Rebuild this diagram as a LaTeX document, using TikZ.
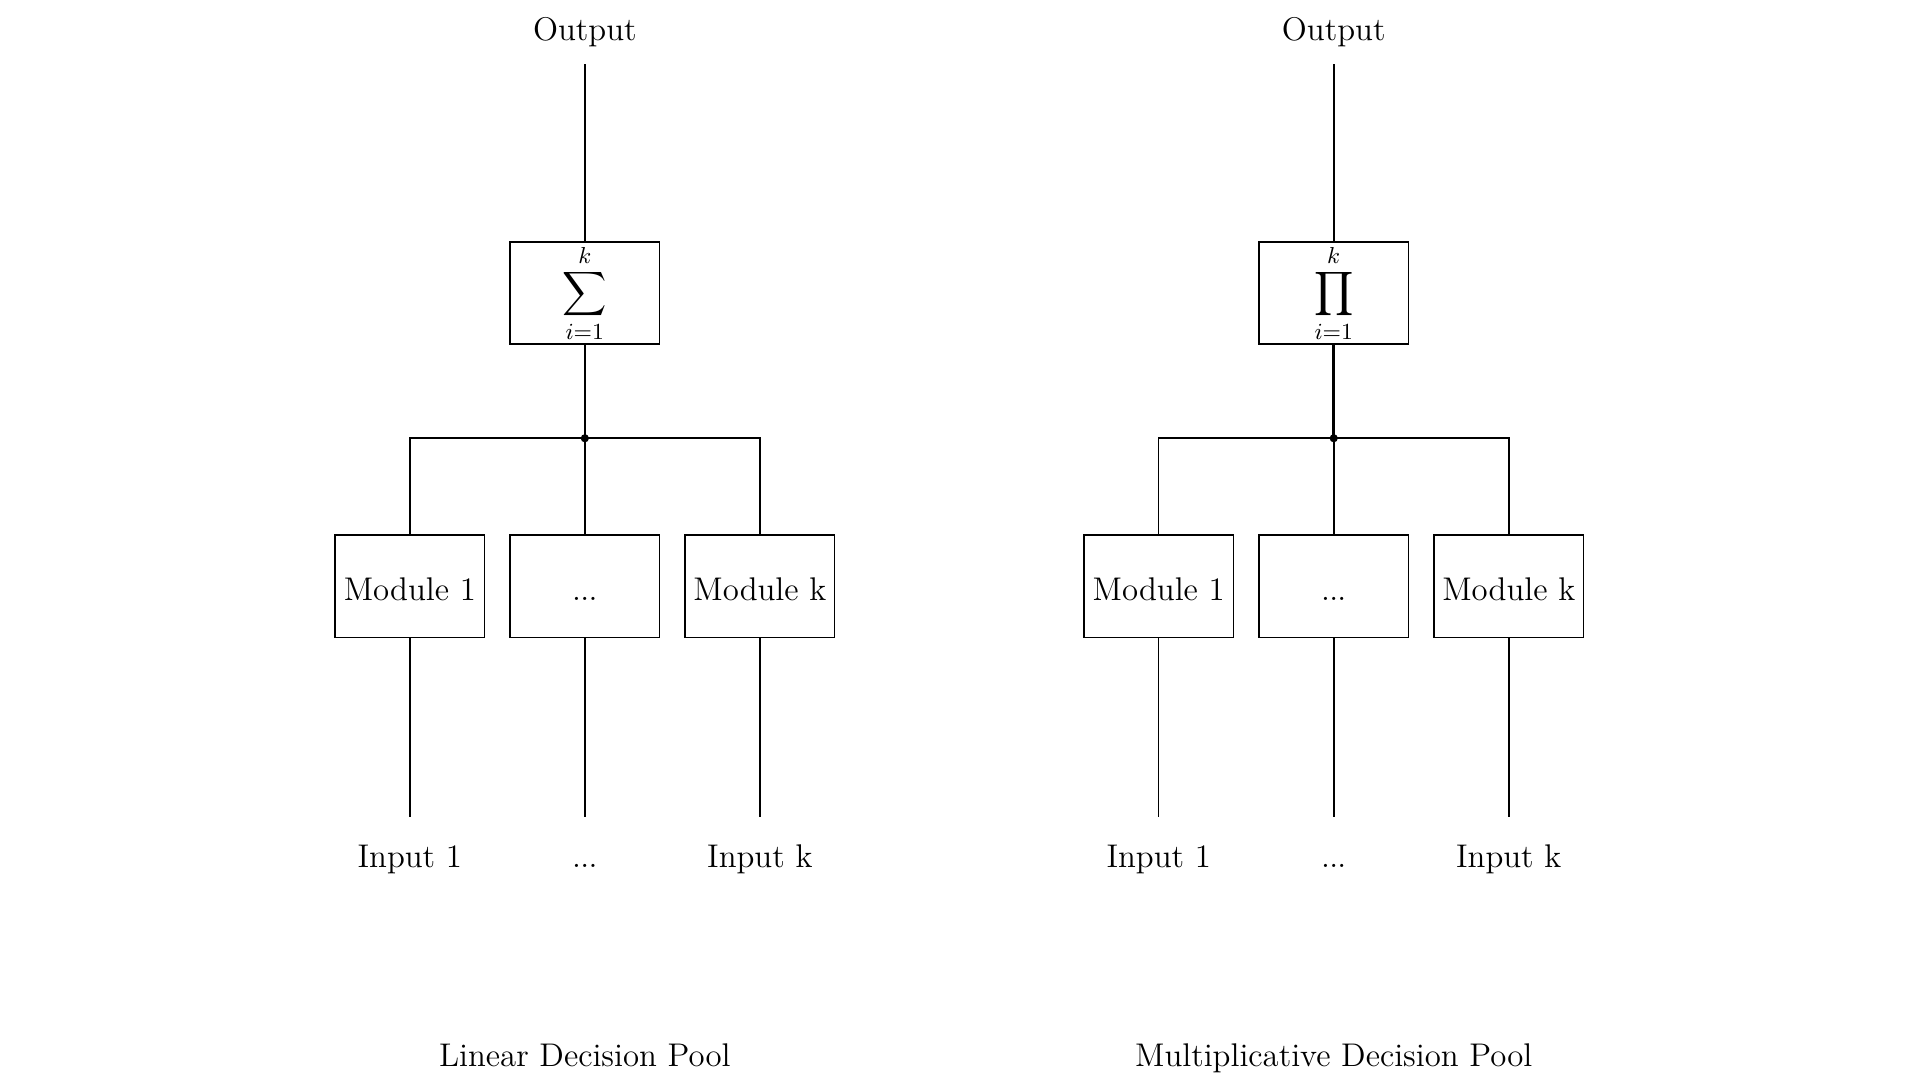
\documentclass[tikz,border=0pt]{standalone}
\usepackage{amsmath}
\usepackage{fontspec}
\newcommand{\gapdots}{.\kern-0.3pt.\kern-0.3pt.}
\begin{document}
\begin{tikzpicture}[every node/.style={font=\fontsize{12.8}{15}\selectfont},
  box/.style={draw, semithick, minimum width=2.05cm, minimum height=1.4cm, inner sep=0pt},
  modbox/.style={box, text height=11.3pt, text depth=0pt},
  wire/.style={semithick}]
  \useasboundingbox (0,0) rectangle (26.33,-14.81);
  % one pool per column
  \foreach \p/\x/\op/\title in {L/8.02/\sum/Linear, R/18.29/\prod/Multiplicative} {
    \node[anchor=base] (out\p) at (\x,-0.56) {Output};
    \coordinate (top\p) at (\x,-0.88);
    \node[box] (agg\p) at (\x,-4.02) {$\displaystyle\op_{i=1}^{k}$};
    \coordinate (j\p) at (\x,-6.01);
    \draw[wire] (top\p) -- (agg\p.north);
    \draw[line width=1pt] (agg\p.south) -- (j\p);
    \fill (j\p) circle (1.6pt);
    % modules and inputs
    \foreach \i/\dx/\mtxt/\itxt in {1/-2.4/Module 1/Input 1, 2/0/\gapdots/\gapdots, 3/2.4/Module k/Input k} {
      \node[modbox] (m\p\i) at (\x+\dx,-8.04) {\mtxt};
      \coordinate (b\p\i) at (\x+\dx,-11.20);
      \node[anchor=base] (in\p\i) at (\x+\dx,-11.90) {\itxt};
      \draw[wire] (j\p) -| (m\p\i.north);
      \draw[wire] (m\p\i.south) -- (b\p\i);
    }
    \node[anchor=base] (cap\p) at (\x,-14.63) {\title\ Decision Pool};
  }
\end{tikzpicture}
\end{document}
